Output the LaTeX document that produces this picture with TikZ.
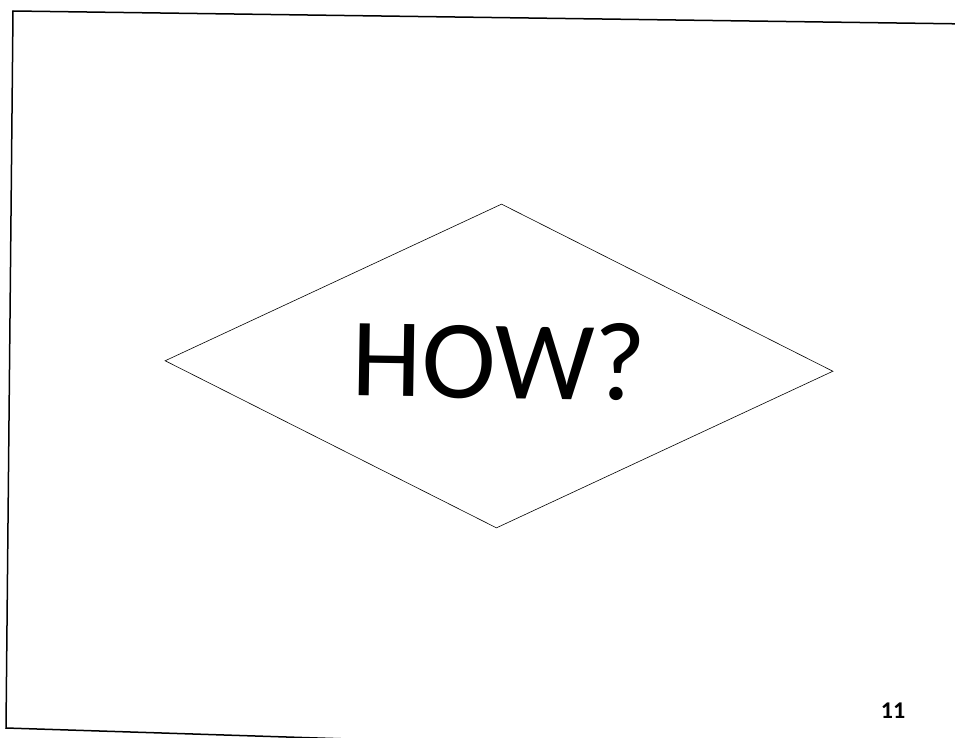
\documentclass[tikz,border=0pt]{standalone}
\usepackage{fontspec}
\setmainfont{Carlito}
\usetikzlibrary{shapes.geometric}

\tikzset{
  question/.style={diamond, draw, line width=0.6pt, inner sep=0pt,
    minimum width=668pt, minimum height=324pt, rotate=-0.9,
    text depth=12pt, font=\fontsize{112}{112}\selectfont},
  pagenum/.style={font=\bfseries\fontsize{24}{24}\selectfont}
}

\begin{document}
\begin{tikzpicture}[x=1pt, y=-1pt]
  \useasboundingbox (0,0) rectangle (955,738);
  \clip (0,0) rectangle (955,738);
  % slide frame (scanned, slightly tilted)
  \coordinate (tl) at (13,11);
  \coordinate (tr) at (970,24);
  \coordinate (bl) at (6,728);
  \coordinate (br) at (380,740);
  \draw[line width=1.5pt] (tr) -- (tl) -- (bl) -- (br);
  % decision shape
  \node[question] (how) at (499,366) {\makebox[0pt]{HOW?}};
  % page number
  \node[pagenum] (num) at (893,711) {11};
\end{tikzpicture}
\end{document}
